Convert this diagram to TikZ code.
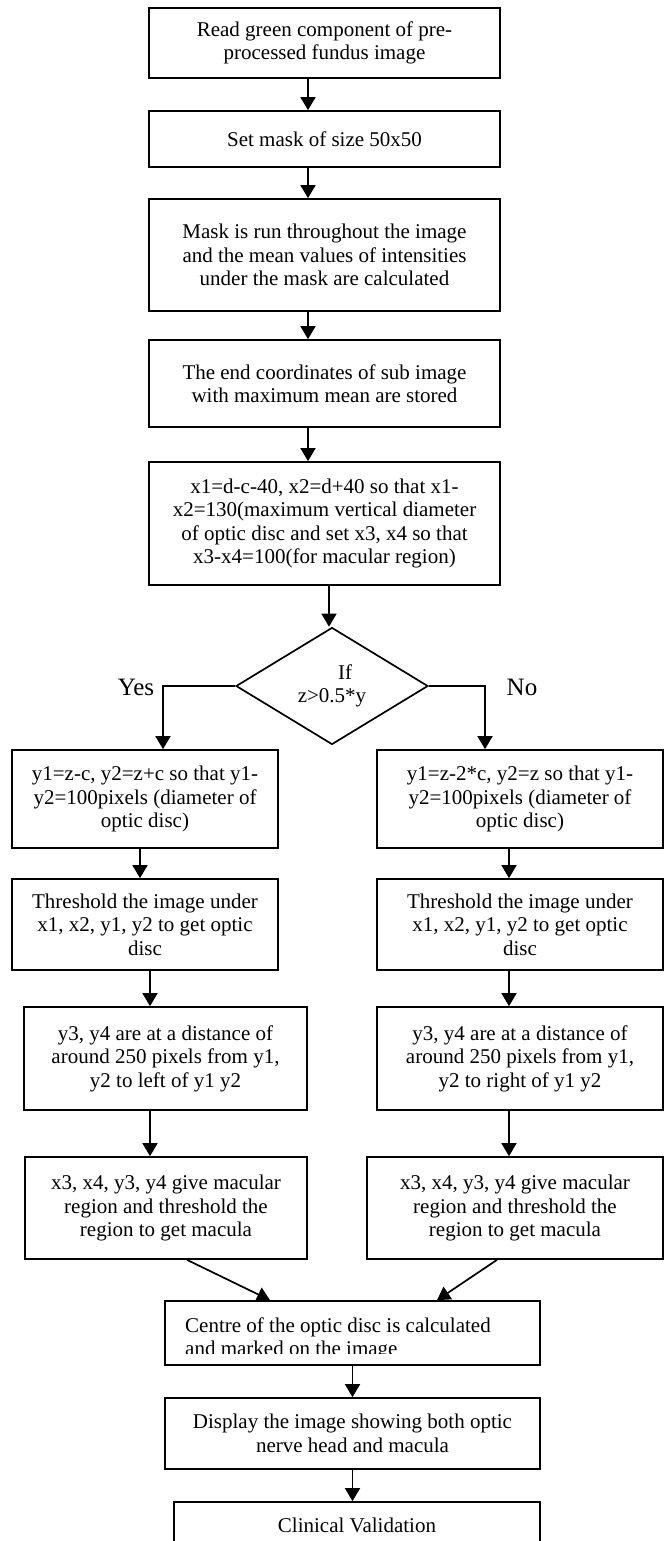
\documentclass[tikz,border=0pt]{standalone}
\usepackage{fontspec}
\setmainfont{Liberation Serif}
\usetikzlibrary{shapes.geometric,arrows.meta}
\newcommand\myfs{\fontsize{21}{23.5}\selectfont}
\tikzset{
  box/.style={draw, line width=1.7pt, align=center, inner sep=2pt, font=\myfs},
  arr/.style={-{Triangle[length=13pt,width=15pt]}, line width=1.7pt},
  lbl/.style={font=\fontsize{25}{28}\selectfont, inner sep=0pt}
}
\begin{document}
\begin{tikzpicture}[x=1pt,y=-1pt]
\clip (0,0) rectangle (667,1541);
\fill[white] (0,0) rectangle (667,1541);
% main column
\node[box, minimum width=351pt, minimum height=70pt] (b1) at (324.5,43) {Read green component of pre-\\processed fundus image};
\node[box, minimum width=351pt, minimum height=56pt] (b2) at (324.5,139) {Set mask of size 50x50};
\node[box, minimum width=351pt, minimum height=112pt] (b3) at (324.5,255) {Mask is run throughout the image\\and the mean values of intensities\\under the mask are calculated};
\node[box, minimum width=351pt, minimum height=87pt] (b4) at (324.5,383.5) {The end coordinates of sub image\\with maximum mean are stored};
\node[box, minimum width=351pt, minimum height=123pt] (b5) at (324.5,523.5) {x1=d-c-40, x2=d+40 so that x1-\\x2=130(maximum vertical diameter\\of optic disc and set x3, x4 so that\\x3-x4=100(for macular region)};
\node[box, shape=diamond, minimum width=192pt, minimum height=117pt, inner sep=0pt] (d) at (332,686) {\hspace*{26pt}If\\z>0.5*y};
\node[lbl] (yes) at (136,687) {Yes};
\node[lbl] (no) at (522,687) {No};
% left branch
\node[box, minimum width=266pt, minimum height=98pt] (l1) at (145,799) {y1=z-c, y2=z+c so that y1-\\y2=100pixels (diameter of\\optic disc)};
\node[box, minimum width=266pt, minimum height=91pt] (l2) at (145,924.5) {Threshold the image under\\x1, x2, y1, y2 to get optic\\disc};
\node[box, minimum width=283pt, minimum height=103pt] (l3) at (165.5,1058.5) {y3, y4 are at a distance of\\around 250 pixels from y1,\\y2 to left of y1 y2};
\node[box, minimum width=282pt, minimum height=102pt] (l4) at (166,1208) {x3, x4, y3, y4 give macular\\region and threshold the\\region to get macula};
% right branch
\node[box, minimum width=286pt, minimum height=98pt] (r1) at (520,799) {y1=z-2*c, y2=z so that y1-\\y2=100pixels (diameter of\\optic disc)};
\node[box, minimum width=286pt, minimum height=91pt] (r2) at (520,924.5) {Threshold the image under\\x1, x2, y1, y2 to get optic\\disc};
\node[box, minimum width=286pt, minimum height=103pt] (r3) at (520,1058.5) {y3, y4 are at a distance of\\around 250 pixels from y1,\\y2 to right of y1 y2};
\node[box, minimum width=296pt, minimum height=102pt] (r4) at (515,1208) {x3, x4, y3, y4 give macular\\region and threshold the\\region to get macula};
% bottom
\node[box, minimum width=375pt, minimum height=64pt] (c) at (352.5,1333) {};
\begin{scope}
\clip (170,1305) rectangle (535,1353.5);
\node[font=\myfs, anchor=base west, inner sep=0pt, align=left] (ctext) at (185,1355.5) {Centre of the optic disc is calculated\\and marked on the image};
\end{scope}
\node[box, minimum width=375pt, minimum height=71pt] (dsp) at (352.5,1433.5) {Display the image showing both optic\\nerve head and macula};
\node[box, minimum width=366pt, minimum height=46pt] (clin) at (357,1525) {Clinical Validation};
% connectors
\draw[arr] ([xshift=-16.5pt]b1.south) -- ([xshift=-16.5pt]b2.north);
\draw[arr] ([xshift=-16.5pt]b2.south) -- ([xshift=-16.5pt]b3.north);
\draw[arr] ([xshift=-16.5pt]b3.south) -- ([xshift=-16.5pt]b4.north);
\draw[arr] ([xshift=-16.5pt]b4.south) -- ([xshift=-16.5pt]b5.north);
\draw[arr] ([xshift=4.5pt]b5.south) -- ([xshift=4.5pt]b5.south |- d.north);
\draw[arr] (d.west) -| ([xshift=18pt]l1.north);
\draw[arr] (d.east) -| ([xshift=-35pt]r1.north);
\draw[arr] ([xshift=-5pt]l1.south) -- ([xshift=-5pt]l2.north);
\draw[arr] ([xshift=5pt]l2.south) -- ([xshift=5pt]l2.south |- l3.north);
\draw[arr] ([xshift=-15.5pt]l3.south) -- ([xshift=-16pt]l4.north);
\draw[arr] ([xshift=-11pt]r1.south) -- ([xshift=-11pt]r2.north);
\draw[arr] ([xshift=-11pt]r2.south) -- ([xshift=-11pt]r3.north);
\draw[arr] ([xshift=-11pt]r3.south) -- ([xshift=-6pt]r4.north);
\draw[arr] ([xshift=21pt]l4.south) -- ([xshift=-82.5pt]c.north);
\draw[arr] ([xshift=-18pt]r4.south) -- ([xshift=84.5pt]c.north);
\draw[arr] (c.south) -- (dsp.north);
\draw[arr] (dsp.south) -- (dsp.south |- clin.north);
\end{tikzpicture}
\end{document}
